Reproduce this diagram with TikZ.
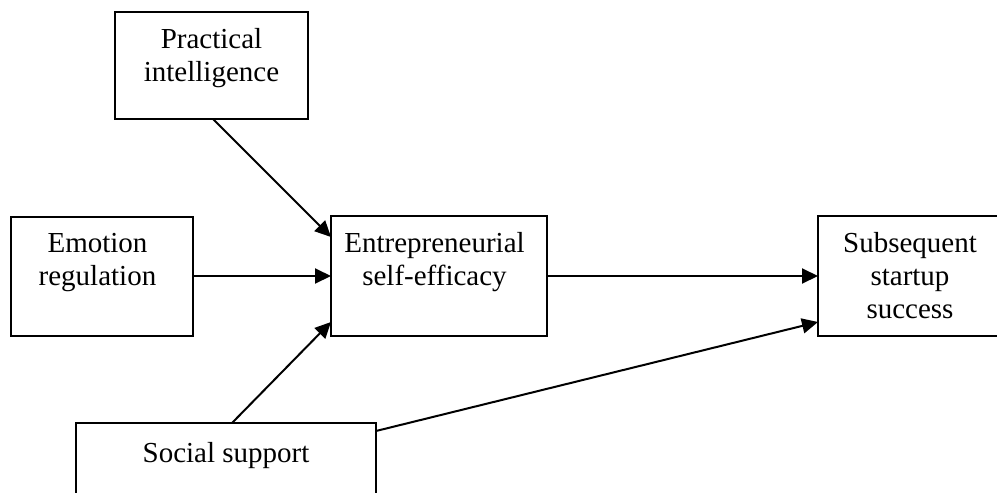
\documentclass[tikz,border=0pt]{standalone}
\usepackage{fontspec}
\setmainfont{Liberation Serif}
\usetikzlibrary{arrows.meta}
\begin{document}
\begin{tikzpicture}[x=1pt,y=-1pt,
  box/.style={draw, line width=2pt, outer sep=0pt, inner sep=0pt, fill=white},
  lbl/.style={anchor=north, inner sep=0pt, yshift=-12.9pt, align=center,
    font=\fontsize{29pt}{33pt}\selectfont},
  link/.style={line width=2pt, -{Triangle[length=16pt,width=15pt]}}]
\clip (0,0) rectangle (997,493);
\fill[white] (0,0) rectangle (997,493);

% the five constructs
\node[box, minimum width=193pt, minimum height=107pt,
  label={[lbl]north:\strut Practical\\intelligence}] (prac) at (211.5,65.5) {};
\node[box, minimum width=182pt, minimum height=119pt,
  label={[lbl, xshift=-4.5pt]north:\strut Emotion\\regulation}] (emo) at (102,276) {};
\node[box, minimum width=216pt, minimum height=120pt,
  label={[lbl, xshift=-4.5pt]north:\strut Entrepreneurial\\self-efficacy}] (ese) at (439,276) {};
\node[box, minimum width=184pt, minimum height=120pt,
  label={[lbl]north:\strut Subsequent\\startup\\success}] (sub) at (910,276) {};
\node[box, minimum width=300pt, minimum height=110pt,
  label={[lbl, yshift=-3pt]north:\strut Social support}] (soc) at (226,478) {};

% attachment points on the box borders
\coordinate (pracout) at (213,119);
\coordinate (esein1) at (331,237);
\coordinate (esein3) at (331,322);
\coordinate (socout1) at (232,423);
\coordinate (socout2) at (376,431);
\coordinate (subin2) at (818,322);

% paths
\draw[link] (pracout) -- (esein1);
\draw[link] (emo.east) -- (emo.east -| ese.west);
\draw[link] (socout1) -- (esein3);
\draw[link] (ese.east) -- (ese.east -| sub.west);
\draw[link] (socout2) -- (subin2);
\end{tikzpicture}
\end{document}
